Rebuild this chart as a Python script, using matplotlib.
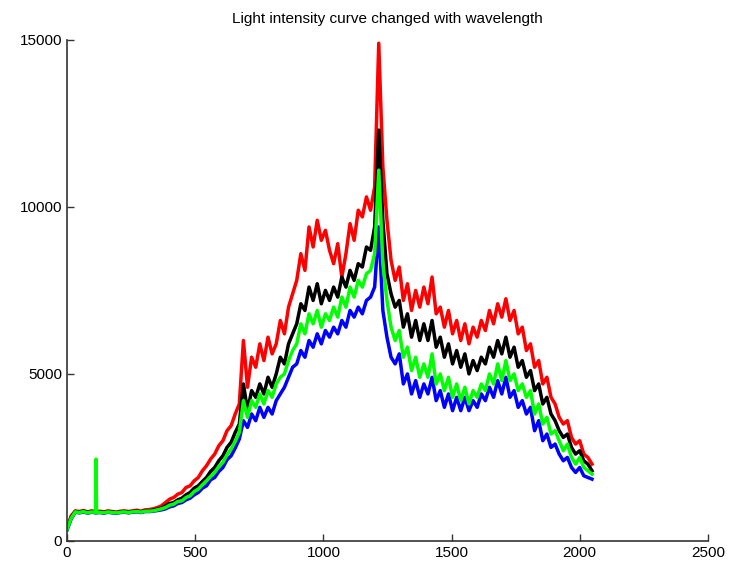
import numpy as np
import matplotlib
matplotlib.use("Agg")
import matplotlib.pyplot as plt

# sample index (wavelength channel), every 16 channels from 0 to 2048
step = 16
x = np.arange(0, 2049, step)

red = [
    400, 750, 900, 880, 910, 870, 900, 880,
    890, 870, 900, 880, 860, 890, 900, 880,
    900, 920, 890, 930, 940, 960, 1000, 1050,
    1150, 1250, 1300, 1400, 1450, 1600, 1650, 1800,
    1900, 2100, 2250, 2450, 2600, 2850, 3000, 3300,
    3450, 3800, 4100, 6000, 4600, 5500, 5200, 5900,
    5400, 6100, 5600, 5900, 6600, 6200, 7000, 7400,
    7800, 8600, 8100, 9400, 8800, 9600, 9000, 9300,
    8700, 8300, 8900, 7900, 8600, 9500, 9000, 9900,
    9700, 10300, 9900, 10600, 14900, 11200, 9600, 8400,
    7800, 8200, 7200, 7700, 6900, 7500, 7000, 7600,
    7100, 7900, 6800, 7000, 6400, 6900, 6200, 6600,
    6000, 6500, 5900, 6400, 6100, 6600, 6300, 6900,
    6500, 7100, 6700, 7250, 6600, 6900, 6200, 6400,
    5700, 5900, 5200, 5400, 4700, 4900, 4300, 4100,
    3700, 3500, 3600, 3100, 2900, 3000, 2600, 2500,
    2300,
]

black = [
    380, 700, 880, 860, 890, 850, 880, 860,
    870, 850, 880, 860, 850, 870, 880, 860,
    880, 890, 870, 900, 900, 920, 950, 980,
    1050, 1120, 1150, 1230, 1280, 1380, 1450, 1580,
    1650, 1780, 1900, 2080, 2200, 2400, 2550, 2800,
    2950, 3250, 3500, 4700, 3900, 4500, 4300, 4700,
    4400, 4900, 4600, 5000, 5500, 5300, 5900, 6200,
    6500, 7100, 6900, 7600, 7200, 7700, 7100, 7500,
    7200, 7600, 7300, 7900, 7600, 8100, 7800, 8300,
    8200, 8800, 8700, 9400, 12300, 9600, 8000, 7400,
    7000, 7200, 6400, 6800, 6100, 6600, 6000, 6500,
    6000, 6600, 5800, 6100, 5500, 5900, 5300, 5700,
    5200, 5600, 5000, 5400, 5100, 5500, 5300, 5800,
    5500, 6000, 5600, 6100, 5500, 5800, 5200, 5400,
    4900, 5100, 4500, 4700, 4100, 4300, 3800, 3600,
    3300, 3100, 3200, 2800, 2600, 2700, 2400, 2300,
    2100,
]

blue = [
    330, 660, 860, 840, 870, 830, 860, 840,
    850, 830, 860, 840, 830, 850, 860, 840,
    860, 870, 850, 880, 880, 890, 910, 930,
    960, 1020, 1050, 1120, 1150, 1230, 1280, 1380,
    1450, 1580, 1650, 1830, 1900, 2080, 2200, 2430,
    2550, 2780, 3050, 3600, 3400, 3800, 3600, 4000,
    3700, 4000, 3800, 4200, 4400, 4600, 4900, 5200,
    5300, 5700, 5500, 6000, 5800, 6200, 5900, 6300,
    6100, 6400, 6200, 6600, 6400, 6900, 6700, 7000,
    6800, 7200, 7300, 7600, 9400, 6900, 6100, 5500,
    5300, 5600, 4700, 5000, 4400, 4800, 4300, 4700,
    4400, 4900, 4200, 4500, 4000, 4400, 3900, 4300,
    3900, 4300, 3900, 4200, 4000, 4400, 4200, 4600,
    4300, 4800, 4400, 4900, 4300, 4500, 4000, 4200,
    3800, 4000, 3300, 3600, 3000, 3200, 2800, 2900,
    2600, 2400, 2500, 2200, 2050, 2200, 1950, 1900,
    1850,
]

green = [
    350, 680, 870, 850, 880, 840, 870, 850,
    860, 840, 870, 850, 840, 860, 870, 850,
    870, 880, 860, 890, 890, 900, 930, 960,
    1000, 1070, 1100, 1180, 1200, 1300, 1350, 1480,
    1550, 1680, 1800, 1930, 2050, 2230, 2350, 2580,
    2750, 2980, 3250, 4200, 3700, 4200, 4000, 4400,
    4100, 4500, 4300, 4700, 4900, 5000, 5400, 5700,
    5900, 6500, 6200, 6800, 6500, 6900, 6400, 6800,
    6600, 7000, 6700, 7300, 7000, 7600, 7300, 7800,
    7600, 8000, 8100, 8600, 11100, 8300, 7200, 6400,
    6000, 6300, 5500, 5800, 5100, 5500, 4900, 5300,
    4900, 5600, 4700, 5000, 4500, 4900, 4300, 4700,
    4200, 4600, 4100, 4500, 4300, 4700, 4500, 5000,
    4700, 5300, 4800, 5400, 4800, 5000, 4500, 4700,
    4300, 4500, 3800, 4100, 3500, 3700, 3200, 3300,
    3000, 2700, 2900, 2500, 2300, 2500, 2200, 2100,
    2000,
]

# narrow spike in the green channel near index 113
green_spike_x = [111, 113, 115]
green_spike_y = [860, 2450, 860]

plt.rcParams['font.family'] = ['Liberation Sans', 'DejaVu Sans']

fig = plt.figure(figsize=(7.29, 5.70), dpi=100)
ax = fig.add_axes([0.092, 0.051, 0.879, 0.879])

lw = 2.5
ax.plot(x, red, color='#ff0000', lw=lw)
ax.plot(x, black, color='#000000', lw=lw)
ax.plot(x, blue, color='#0000ff', lw=lw)
ax.plot(x, green, color='#00ff00', lw=lw)
ax.plot(green_spike_x, green_spike_y, color='#00ff00', lw=lw)

ax.set_xlim(0, 2500)
ax.set_ylim(0, 15000)
ax.set_xticks([0, 500, 1000, 1500, 2000, 2500])
ax.set_yticks([0, 5000, 10000, 15000])

for s in ['top', 'right']:
    ax.spines[s].set_visible(False)
for s in ['left', 'bottom']:
    ax.spines[s].set_color('#333333')
    ax.spines[s].set_linewidth(1.2)

ax.tick_params(direction='in', length=5, width=1, colors='#333333',
               labelcolor='black', labelsize=11)

ax.set_title('Light intensity curve changed with wavelength', fontsize=11, pad=12)

fig.savefig('out.png', dpi=100)
